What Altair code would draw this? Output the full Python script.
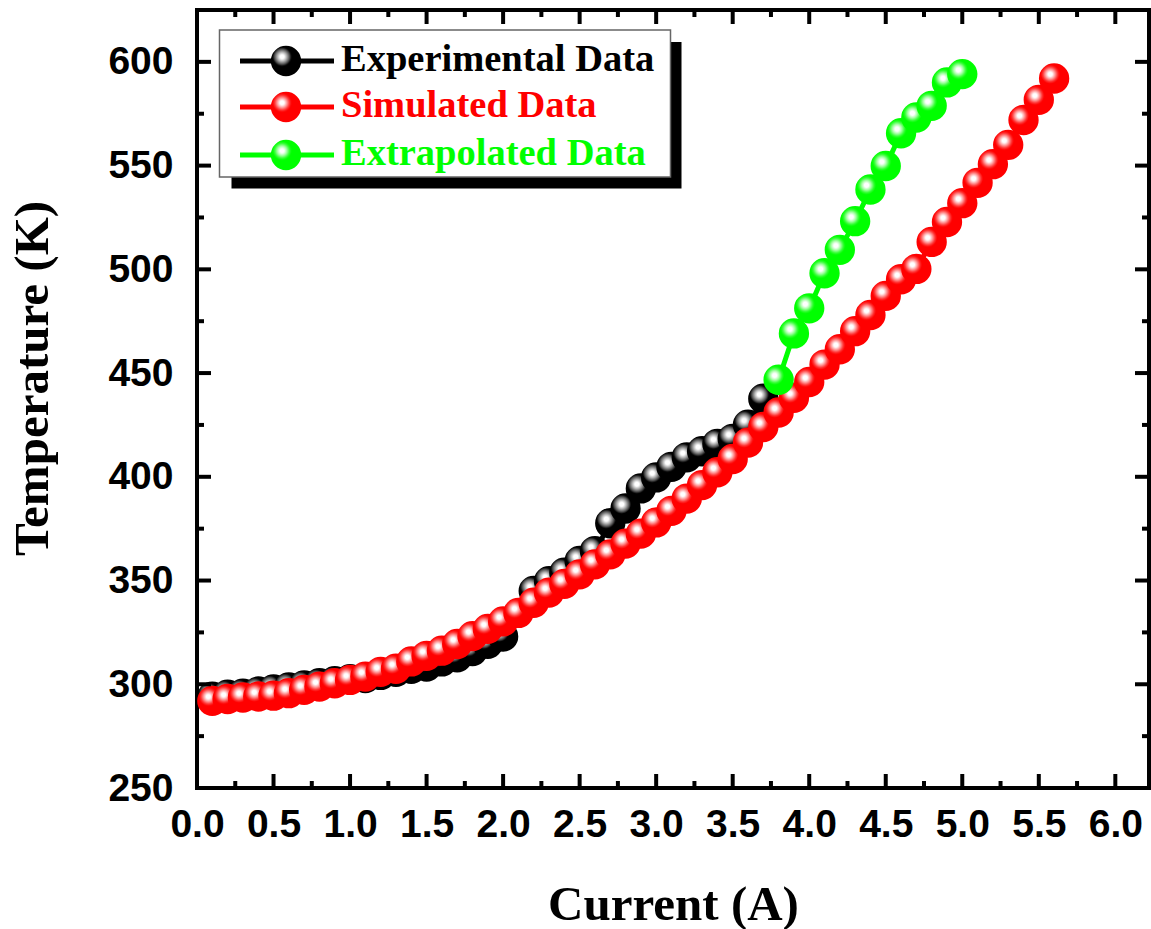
import altair as alt
import pandas as pd

# ---------------- data ----------------
exp_current = [0.1, 0.2, 0.3, 0.4, 0.5, 0.6, 0.7, 0.8, 0.9, 1.0,
               1.1, 1.2, 1.3, 1.4, 1.5, 1.6, 1.7, 1.8, 1.9, 2.0,
               2.2, 2.3, 2.4, 2.5, 2.6, 2.7, 2.8, 2.9, 3.0, 3.1,
               3.2, 3.3, 3.4, 3.5, 3.6, 3.7]
exp_temp = [294.0, 295.0, 295.5, 296.5, 297.5, 298.5, 299.5, 300.5, 301.5, 302.5,
            303.0, 304.5, 306.0, 307.5, 308.5, 311.0, 313.0, 316.0, 319.5, 323.0,
            345.0, 349.7, 353.8, 359.4, 364.2, 377.6, 384.7, 394.4, 399.7, 404.8,
            409.4, 412.3, 415.9, 418.3, 425.1, 437.6]

sim_current = [0.1, 0.2, 0.3, 0.4, 0.5, 0.6, 0.7, 0.8, 0.9, 1.0,
               1.1, 1.2, 1.3, 1.4, 1.5, 1.6, 1.7, 1.8, 1.9, 2.0,
               2.1, 2.2, 2.3, 2.4, 2.5, 2.6, 2.7, 2.8, 2.9, 3.0,
               3.1, 3.2, 3.3, 3.4, 3.5, 3.6, 3.7, 3.8, 3.9, 4.0,
               4.1, 4.2, 4.3, 4.4, 4.5, 4.6, 4.7, 4.8, 4.9, 5.0,
               5.1, 5.2, 5.3, 5.4, 5.5, 5.6]
sim_temp = [292.0, 292.9, 293.6, 294.1, 294.5, 295.7, 297.3, 298.9, 300.5, 302.1,
            303.7, 306.0, 307.5, 311.0, 313.7, 316.2, 319.4, 323.2, 326.7, 330.3,
            334.4, 339.3, 344.2, 348.4, 353.0, 357.8, 362.6, 367.8, 372.6, 378.0,
            383.6, 389.5, 396.0, 402.2, 408.6, 416.5, 424.0, 431.0, 438.1, 445.7,
            454.1, 461.5, 470.2, 478.0, 487.2, 495.2, 500.2, 513.2, 522.8, 531.9,
            541.7, 550.7, 560.0, 572.0, 581.7, 592.0]

ext_current = [3.8, 3.9, 4.0, 4.1, 4.2, 4.3, 4.4, 4.5, 4.6, 4.7, 4.8, 4.9, 5.0]
ext_temp = [446.8, 469.1, 481.2, 498.1, 509.4, 523.2, 538.5, 549.8, 565.6, 573.2,
            578.8, 590.1, 594.1]

series_names = ["Experimental Data", "Simulated Data", "Extrapolated Data"]

x_major_ticks = [0.0, 0.5, 1.0, 1.5, 2.0, 2.5, 3.0, 3.5, 4.0, 4.5, 5.0, 5.5, 6.0]
x_minor_ticks = [0.25, 0.75, 1.25, 1.75, 2.25, 2.75, 3.25, 3.75, 4.25, 4.75, 5.25, 5.75]
y_major_ticks = [250, 300, 350, 400, 450, 500, 550, 600]
y_minor_ticks = [275, 325, 375, 425, 475, 525, 575]

# ---------------- styling ----------------
W, H = 952, 778
X_DOMAIN = [0, 6.22]
Y_DOMAIN = [250, 625]
SANS = "Liberation Sans"
SERIF = "Liberation Serif"
colors = ["#000000", "#ff0000", "#00ff00"]
highlight = ["#b0b0b0", "#ff9f9f", "#a6ffa6"]
mid = ["#505050", "#ff3030", "#30ff30"]
MSIZE = 920


def grad(i):
    return {
        "gradient": "radial",
        "x1": 0.37, "y1": 0.36, "r1": 0,
        "x2": 0.37, "y2": 0.36, "r2": 0.31,
        "stops": [
            {"offset": 0.0, "color": "#ffffff"},
            {"offset": 0.22, "color": "#ffffff"},
            {"offset": 0.5, "color": highlight[i]},
            {"offset": 0.8, "color": mid[i]},
            {"offset": 1.0, "color": colors[i]},
        ],
    }


xs = alt.Scale(domain=X_DOMAIN, nice=False, zero=False)
ys = alt.Scale(domain=Y_DOMAIN, nice=False, zero=False)

x_axis = alt.Axis(values=x_major_ticks, format=".1f", title="Current (A)",
                  grid=False, ticks=False, tickSize=0, domain=False,
                  labelOverlap=False, labelFlush=False,
                  labelFont=SANS, labelFontSize=39, labelFontWeight="bold",
                  labelColor="black", labelPadding=17,
                  titleFont=SERIF, titleFontSize=49, titleFontWeight="bold",
                  titleColor="black", titleBaseline="alphabetic",
                  titleY=131, titleX=W / 2, titleAlign="center")
y_axis = alt.Axis(values=y_major_ticks, format="d", title="Temperature (K)",
                  grid=False, ticks=False, tickSize=0, domain=False,
                  labelOverlap=False, labelFlush=False,
                  labelFont=SANS, labelFontSize=39, labelFontWeight="bold",
                  labelColor="black", labelPadding=24,
                  titleFont=SERIF, titleFontSize=49, titleFontWeight="bold",
                  titleColor="black", titleAngle=270, titleAlign="center",
                  titleBaseline="alphabetic", titleX=-150, titleY=368)

layers = []

all_series = [(exp_current, exp_temp), (sim_current, sim_temp), (ext_current, ext_temp)]
for i, (cx, ty) in enumerate(all_series):
    df = pd.DataFrame({"current": cx, "temp": ty, "series": series_names[i]})
    base = alt.Chart(df)
    enc = dict(x=alt.X("current:Q", scale=xs, axis=x_axis),
               y=alt.Y("temp:Q", scale=ys, axis=y_axis))
    layers.append(base.mark_line(color=colors[i], strokeWidth=5).encode(**enc))
    layers.append(base.mark_point(shape="circle", filled=True, fill=grad(i),
                                  opacity=1, size=MSIZE, strokeWidth=0).encode(**enc))

# mirrored inward ticks
TMAJ, TMIN, TW = 14, 7, 4
xmaj = alt.Chart(pd.DataFrame({"current": x_major_ticks}))
xmin = alt.Chart(pd.DataFrame({"current": x_minor_ticks}))
ymaj = alt.Chart(pd.DataFrame({"temp": y_major_ticks}))
ymin = alt.Chart(pd.DataFrame({"temp": y_minor_ticks}))
for src, L in [(xmaj, TMAJ), (xmin, TMIN)]:
    xe = alt.X("current:Q", scale=xs, axis=x_axis)
    layers.append(src.mark_rule(color="black", strokeWidth=TW).encode(
        x=xe, y=alt.value(H), y2=alt.value(H - L)))
    layers.append(src.mark_rule(color="black", strokeWidth=TW).encode(
        x=xe, y=alt.value(0), y2=alt.value(L)))
for src, L in [(ymaj, TMAJ), (ymin, TMIN)]:
    ye = alt.Y("temp:Q", scale=ys, axis=y_axis)
    layers.append(src.mark_rule(color="black", strokeWidth=TW).encode(
        y=ye, x=alt.value(0), x2=alt.value(L)))
    layers.append(src.mark_rule(color="black", strokeWidth=TW).encode(
        y=ye, x=alt.value(W), x2=alt.value(W - L)))

# legend (drawn manually)
one = alt.Data(values=[{"k": 1}])
layers.append(alt.Chart(one).mark_rect(color="black").encode(
    x=alt.value(34.5), x2=alt.value(484.5), y=alt.value(32), y2=alt.value(178.5)))
layers.append(alt.Chart(one).mark_rect(fill="white", stroke="#666666", strokeWidth=1.5).encode(
    x=alt.value(22.5), x2=alt.value(473.5), y=alt.value(20), y2=alt.value(167)))
row_y = [51, 97, 145]
for i, name in enumerate(series_names):
    d = alt.Data(values=[{"label": name}])
    layers.append(alt.Chart(d).mark_rule(color=colors[i], strokeWidth=5).encode(
        x=alt.value(43), x2=alt.value(137), y=alt.value(row_y[i])))
    layers.append(alt.Chart(d).mark_point(shape="circle", filled=True, fill=grad(i),
                                          opacity=1, size=MSIZE, strokeWidth=0).encode(
        x=alt.value(89), y=alt.value(row_y[i])))
    layers.append(alt.Chart(d).mark_text(font=SERIF, fontSize=38.5, fontWeight="bold",
                                         color=colors[i], align="left",
                                         baseline="alphabetic").encode(
        x=alt.value(144), y=alt.value(row_y[i] + 10), text="label:N"))

chart = alt.layer(*layers).properties(
    width=W, height=H,
    background="white",
    autosize=alt.AutoSizeParams(type="none"),
    padding={"left": 197, "top": 10, "right": 2, "bottom": 141},
).configure_view(stroke="black", strokeWidth=4)

chart.save("out.html", embed_options={"renderer": "svg", "actions": False})
